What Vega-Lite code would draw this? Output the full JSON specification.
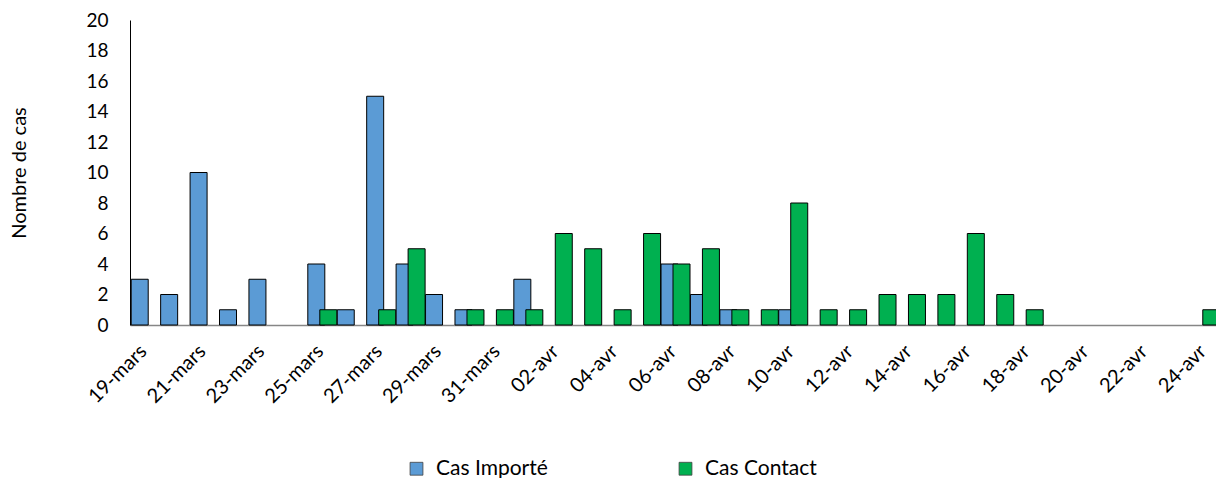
{
  "$schema": "https://vega.github.io/schema/vega-lite/v6.json",
  "autosize": "none",
  "width": 1086,
  "height": 305,
  "padding": {"left": 130, "top": 20, "right": 0, "bottom": 153},
  "background": "white",
  "config": {
    "font": "Lato",
    "view": {"stroke": null},
    "axis": {"labelFont": "Lato", "titleFont": "Lato", "labelColor": "#000000", "titleColor": "#000000", "grid": false, "ticks": false},
    "legend": {"labelFont": "Lato"}
  },
  "data": {
    "values": [
      {"date": "19-mars", "serie": "Cas Importé", "cas": 3},
      {"date": "20-mars", "serie": "Cas Importé", "cas": 2},
      {"date": "21-mars", "serie": "Cas Importé", "cas": 10},
      {"date": "22-mars", "serie": "Cas Importé", "cas": 1},
      {"date": "23-mars", "serie": "Cas Importé", "cas": 3},
      {"date": "25-mars", "serie": "Cas Importé", "cas": 4},
      {"date": "26-mars", "serie": "Cas Importé", "cas": 1},
      {"date": "27-mars", "serie": "Cas Importé", "cas": 15},
      {"date": "28-mars", "serie": "Cas Importé", "cas": 4},
      {"date": "29-mars", "serie": "Cas Importé", "cas": 2},
      {"date": "30-mars", "serie": "Cas Importé", "cas": 1},
      {"date": "01-avr", "serie": "Cas Importé", "cas": 3},
      {"date": "06-avr", "serie": "Cas Importé", "cas": 4},
      {"date": "07-avr", "serie": "Cas Importé", "cas": 2},
      {"date": "08-avr", "serie": "Cas Importé", "cas": 1},
      {"date": "10-avr", "serie": "Cas Importé", "cas": 1},
      {"date": "25-mars", "serie": "Cas Contact", "cas": 1},
      {"date": "27-mars", "serie": "Cas Contact", "cas": 1},
      {"date": "28-mars", "serie": "Cas Contact", "cas": 5},
      {"date": "30-mars", "serie": "Cas Contact", "cas": 1},
      {"date": "31-mars", "serie": "Cas Contact", "cas": 1},
      {"date": "01-avr", "serie": "Cas Contact", "cas": 1},
      {"date": "02-avr", "serie": "Cas Contact", "cas": 6},
      {"date": "03-avr", "serie": "Cas Contact", "cas": 5},
      {"date": "04-avr", "serie": "Cas Contact", "cas": 1},
      {"date": "05-avr", "serie": "Cas Contact", "cas": 6},
      {"date": "06-avr", "serie": "Cas Contact", "cas": 4},
      {"date": "07-avr", "serie": "Cas Contact", "cas": 5},
      {"date": "08-avr", "serie": "Cas Contact", "cas": 1},
      {"date": "09-avr", "serie": "Cas Contact", "cas": 1},
      {"date": "10-avr", "serie": "Cas Contact", "cas": 8},
      {"date": "11-avr", "serie": "Cas Contact", "cas": 1},
      {"date": "12-avr", "serie": "Cas Contact", "cas": 1},
      {"date": "13-avr", "serie": "Cas Contact", "cas": 2},
      {"date": "14-avr", "serie": "Cas Contact", "cas": 2},
      {"date": "15-avr", "serie": "Cas Contact", "cas": 2},
      {"date": "16-avr", "serie": "Cas Contact", "cas": 6},
      {"date": "17-avr", "serie": "Cas Contact", "cas": 2},
      {"date": "18-avr", "serie": "Cas Contact", "cas": 1},
      {"date": "24-avr", "serie": "Cas Contact", "cas": 1}
    ]
  },
  "encoding": {
    "x": {
      "field": "date",
      "type": "ordinal",
      "scale": {
        "domain": ["19-mars","20-mars","21-mars","22-mars","23-mars","24-mars","25-mars","26-mars","27-mars","28-mars","29-mars","30-mars","31-mars","01-avr","02-avr","03-avr","04-avr","05-avr","06-avr","07-avr","08-avr","09-avr","10-avr","11-avr","12-avr","13-avr","14-avr","15-avr","16-avr","17-avr","18-avr","19-avr","20-avr","21-avr","22-avr","23-avr","24-avr"],
        "range": [0, 1089],
        "paddingInner": 0,
        "paddingOuter": 0
      },
      "axis": {
        "title": null,
        "values": ["19-mars","21-mars","23-mars","25-mars","27-mars","29-mars","31-mars","02-avr","04-avr","06-avr","08-avr","10-avr","12-avr","14-avr","16-avr","18-avr","20-avr","22-avr","24-avr"],
        "labelAngle": -45,
        "labelAlign": "right",
        "labelBaseline": "middle",
        "labelFontSize": 20,
        "labelPadding": 23,
        "labelOffset": -1,
        "domainColor": "#868686",
        "domainWidth": 1.3
      }
    },
    "y": {
      "field": "cas",
      "type": "quantitative",
      "scale": {"domain": [0, 20], "nice": false},
      "axis": {
        "title": "Nombre de cas",
        "values": [0,2,4,6,8,10,12,14,16,18,20],
        "labelFontSize": 19,
        "labelPadding": 22,
        "titleFontSize": 20,
        "titleFontWeight": "normal",
        "titlePadding": 56,
        "domainColor": "#000000",
        "domainWidth": 1
      }
    },
    "color": {
      "field": "serie",
      "type": "nominal",
      "scale": {"domain": ["Cas Importé", "Cas Contact"], "range": ["#5B9BD5", "#00B050"]},
      "legend": {
        "title": null,
        "orient": "none",
        "direction": "horizontal",
        "legendX": 276,
        "legendY": 438,
        "symbolType": "square",
        "symbolSize": 165,
        "symbolStrokeColor": "#404040",
        "symbolStrokeWidth": 0.8,
        "labelFontSize": 21,
        "labelColor": "#000000",
        "labelOffset": 9,
        "columnPadding": 127
      }
    }
  },
  "layer": [
    {
      "transform": [{"filter": "datum.serie === 'Cas Importé'"}],
      "mark": {"type": "bar", "width": 17, "xOffset": -5, "stroke": "#000000", "strokeWidth": 1}
    },
    {
      "transform": [{"filter": "datum.serie === 'Cas Contact'"}],
      "mark": {"type": "bar", "width": 17, "xOffset": 7, "stroke": "#000000", "strokeWidth": 1}
    }
  ]
}
